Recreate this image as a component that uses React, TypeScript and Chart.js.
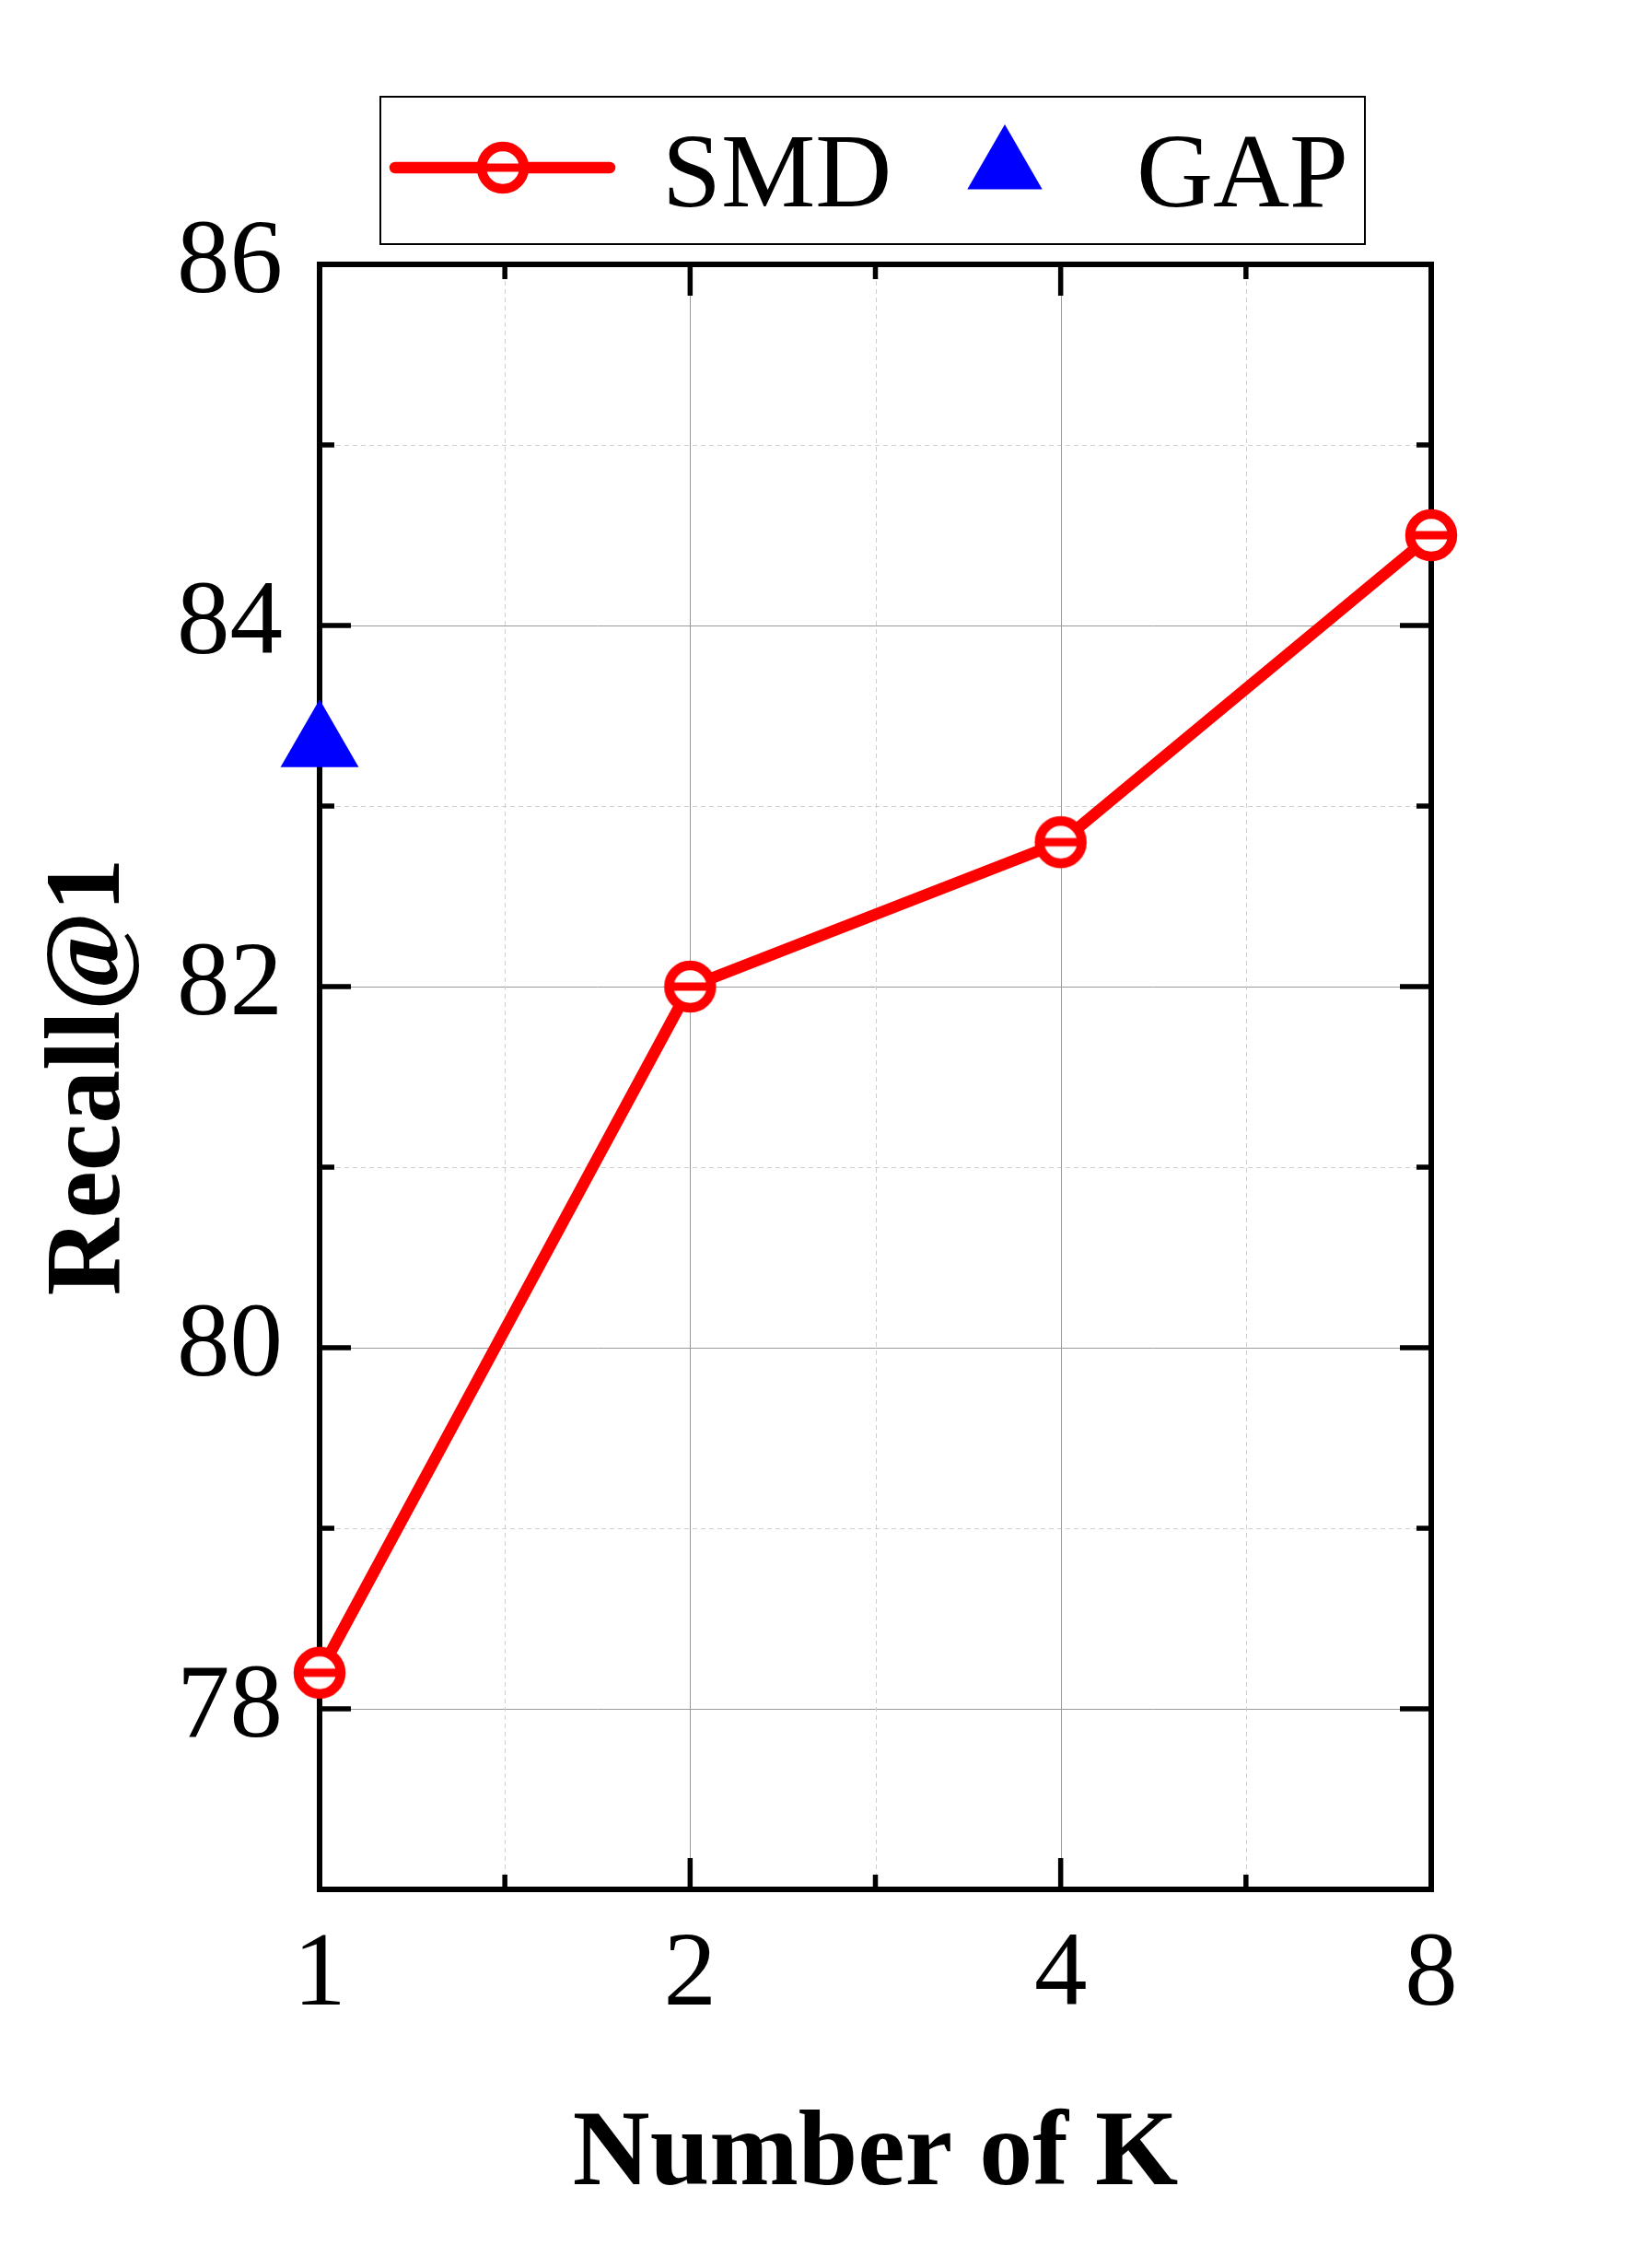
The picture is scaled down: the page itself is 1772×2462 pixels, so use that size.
import React, { useEffect, useRef } from 'react';
import { Chart, registerables } from 'chart.js';

Chart.register(...registerables);

// ---- data ----
const kLabels = ['1', '2', '4', '8'];
const smdValues = [78.2, 82.0, 82.8, 84.5];
const gapValues = [83.34];
const yTickLabels = ['78', '80', '82', '84', '86'];
const seriesNames = ['SMD', 'GAP'];

const W = 1772;
const H = 2462;
const FONT = "'Liberation Serif', 'Times New Roman', serif";
const RED = '#ff0000';
const BLUE = '#0000ff';

function makeMarker(): HTMLCanvasElement {
  const c = document.createElement('canvas');
  c.width = 64;
  c.height = 64;
  const g = c.getContext('2d')!;
  g.translate(32, 32);
  g.beginPath();
  g.arc(0, 0, 23, 0, Math.PI * 2);
  g.fillStyle = '#fff';
  g.fill();
  g.lineWidth = 10.5;
  g.strokeStyle = RED;
  g.stroke();
  g.fillStyle = RED;
  g.fillRect(-19, -4.5, 38, 9);
  return c;
}

function drawTriangle(ctx: CanvasRenderingContext2D, x: number, y: number, r: number) {
  ctx.beginPath();
  for (let i = 0; i < 3; i++) {
    const a = (i * 2 * Math.PI) / 3;
    const px = x + Math.sin(a) * r;
    const py = y - Math.cos(a) * r;
    if (i === 0) ctx.moveTo(px, py);
    else ctx.lineTo(px, py);
  }
  ctx.closePath();
  ctx.fillStyle = BLUE;
  ctx.fill();
}

const makeFramePlugin = (marker: HTMLCanvasElement) => ({
  id: 'frameAndLegend',
  beforeDatasetsDraw(chart: any) {
    const { ctx, chartArea } = chart;
    const { left, right, top, bottom } = chartArea;
    const xs = chart.scales.x;
    const ys = chart.scales.y;
    ctx.save();
    // grid lines
    ys.ticks.forEach((t: any) => {
      const v = t.value;
      if (v <= ys.min || v >= ys.max) return;
      const py = Math.round(ys.getPixelForValue(v)) + 0.5;
      const major = yTickLabels.includes(String(v));
      ctx.beginPath();
      ctx.setLineDash(major ? [] : [5, 4]);
      ctx.strokeStyle = major ? '#9a9a9a' : '#cfcfcf';
      ctx.lineWidth = 1;
      ctx.moveTo(left, py);
      ctx.lineTo(right, py);
      ctx.stroke();
    });
    xs.ticks.forEach((t: any) => {
      const v = t.value;
      if (v <= xs.min || v >= xs.max) return;
      const px = Math.round(xs.getPixelForValue(v)) + 0.5;
      const major = Number.isInteger(v);
      ctx.beginPath();
      ctx.setLineDash(major ? [] : [5, 4]);
      ctx.strokeStyle = major ? '#9a9a9a' : '#cfcfcf';
      ctx.lineWidth = 1;
      ctx.moveTo(px, top);
      ctx.lineTo(px, bottom);
      ctx.stroke();
    });
    ctx.setLineDash([]);
    // ticks (inward, all four sides)
    ctx.strokeStyle = '#000';
    ctx.lineWidth = 5.5;
    ctx.lineCap = 'butt';
    ys.ticks.forEach((t: any) => {
      const v = t.value;
      const py = ys.getPixelForValue(v);
      const len = yTickLabels.includes(String(v)) ? 34 : 16;
      ctx.beginPath();
      ctx.moveTo(left, py);
      ctx.lineTo(left + len, py);
      ctx.moveTo(right, py);
      ctx.lineTo(right - len, py);
      ctx.stroke();
    });
    xs.ticks.forEach((t: any) => {
      const v = t.value;
      const px = xs.getPixelForValue(v);
      const len = Number.isInteger(v) ? 34 : 16;
      ctx.beginPath();
      ctx.moveTo(px, bottom);
      ctx.lineTo(px, bottom - len);
      ctx.moveTo(px, top);
      ctx.lineTo(px, top + len);
      ctx.stroke();
    });
    // frame
    ctx.lineWidth = 6;
    ctx.strokeRect(left, top, right - left, bottom - top);
    ctx.restore();
  },
  afterDraw(chart: any) {
    const { ctx } = chart;
    ctx.save();
    // legend box
    ctx.strokeStyle = '#000';
    ctx.lineWidth = 2;
    ctx.strokeRect(413, 105, 1482 - 413, 265 - 105);
    // SMD entry
    ctx.strokeStyle = RED;
    ctx.lineWidth = 12.5;
    ctx.lineCap = 'round';
    ctx.beginPath();
    ctx.moveTo(429, 182);
    ctx.lineTo(662, 182);
    ctx.stroke();
    ctx.drawImage(marker, 546 - 32, 182 - 32);
    ctx.fillStyle = '#000';
    ctx.font = `115px ${FONT}`;
    ctx.textBaseline = 'alphabetic';
    ctx.textAlign = 'left';
    ctx.fillText(chart.data.datasets[0].label, 719, 224);
    // GAP entry
    drawTriangle(ctx, 1091, 182, 47);
    ctx.fillStyle = '#000';
    ctx.fillText(chart.data.datasets[1].label, 1234, 224);
    ctx.restore();
  },
});

export default function App() {
  const ref = useRef<HTMLCanvasElement>(null);
  useEffect(() => {
    const marker = makeMarker();
    const chart = new Chart(ref.current!, {
      type: 'scatter',
      data: {
        datasets: [
          {
            label: seriesNames[0],
            data: smdValues.map((v, i) => ({ x: i, y: v })),
            showLine: true,
            borderColor: RED,
            borderWidth: 12.5,
            backgroundColor: '#fff',
            pointStyle: marker as any,
            pointRadius: 23,
            clip: false as any,
          },
          {
            label: seriesNames[1],
            data: gapValues.map((v, i) => ({ x: i, y: v })),
            showLine: false,
            borderColor: BLUE,
            backgroundColor: BLUE,
            borderWidth: 0,
            pointStyle: 'triangle',
            pointRadius: 49,
            clip: false as any,
          },
        ],
      },
      options: {
        responsive: false,
        animation: false,
        devicePixelRatio: 1,
        layout: { padding: { left: 0, top: 287, right: 218, bottom: 0 } },
        plugins: { legend: { display: false }, tooltip: { enabled: false } },
        scales: {
          x: {
            type: 'linear',
            min: 0,
            max: kLabels.length - 1,
            afterFit(s: any) {
              s.height = 411;
            },
            grid: { display: false, drawTicks: false },
            border: { display: false },
            ticks: {
              stepSize: 0.5,
              autoSkip: false,
              maxRotation: 0,
              padding: 26,
              color: '#000',
              font: { family: FONT, size: 115 },
              callback: (v: any) => (Number.isInteger(v) ? kLabels[v] : ''),
            },
            title: {
              display: true,
              text: 'Number of K',
              color: '#000',
              font: { family: FONT, size: 116, weight: 'bold' },
              padding: { top: 0, bottom: 51 },
            },
          },
          y: {
            type: 'linear',
            min: 77,
            max: 86,
            afterFit(s: any) {
              s.width = 347;
            },
            grid: { display: false, drawTicks: false },
            border: { display: false },
            ticks: {
              stepSize: 1,
              autoSkip: false,
              padding: 40,
              color: '#000',
              font: { family: FONT, size: 115 },
              callback: (v: any) => (yTickLabels.includes(String(v)) ? String(v) : ''),
            },
            title: {
              display: true,
              text: 'Recall@1',
              color: '#000',
              font: { family: FONT, size: 116, weight: 'bold' },
              padding: { top: 29, bottom: 0 },
            },
          },
        },
      },
      plugins: [makeFramePlugin(marker)],
    } as any);
    return () => chart.destroy();
  }, []);
  return (
    <div style={{ position: 'absolute', left: 0, top: 0, width: W, height: H, background: '#fff' }}>
      <canvas ref={ref} width={W} height={H} style={{ display: 'block', width: W, height: H }} />
    </div>
  );
}
